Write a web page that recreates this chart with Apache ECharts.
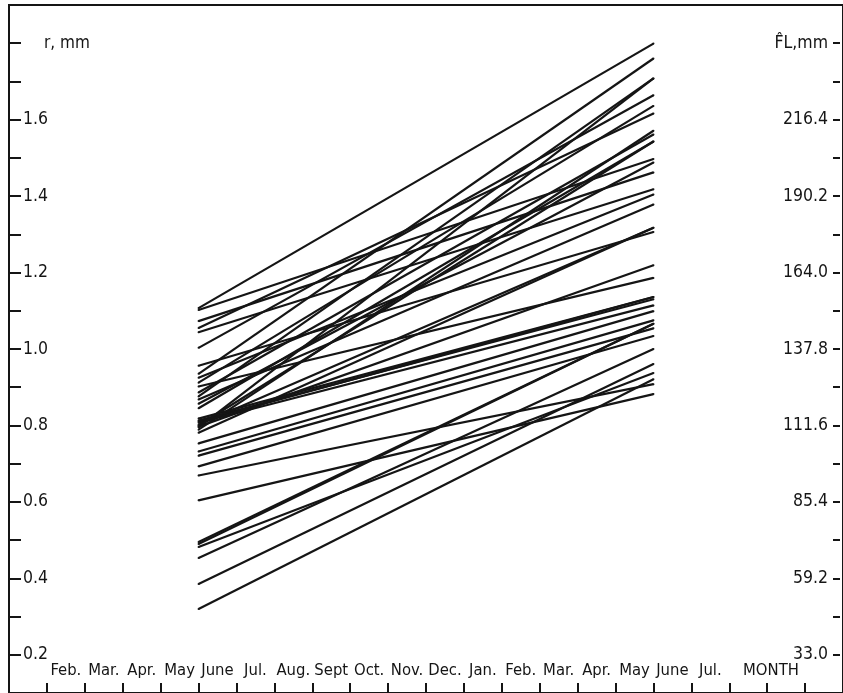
<!DOCTYPE html>
<html>
<head>
<meta charset="utf-8">
<script src="https://cdn.jsdelivr.net/npm/echarts@6/dist/echarts.min.js"></script>
<style>
  html, body { margin: 0; padding: 0; background: #fff; }
  #chart { width: 843px; height: 693px; }
</style>
</head>
<body>
<div id="chart"></div>
<script>
// ---- data ----
const monthLabels = ['Feb.', 'Mar.', 'Apr.', 'May', 'June', 'Jul.', 'Aug.', 'Sept', 'Oct.', 'Nov.', 'Dec.', 'Jan.', 'Feb.', 'Mar.', 'Apr.', 'May', 'June', 'Jul.'];
const monthAxisTitle = 'MONTH';
const startMonth = 4;   // June, first year
const endMonth = 16;    // June, following year
// scale radius (mm) at start and end of the growth year, one entry per fish
const startR = [
  1.107, 1.102, 1.073, 1.055, 1.044, 1.003, 0.956, 0.935, 0.925, 0.912,
  0.902, 0.886, 0.876, 0.868, 0.857, 0.845,
  0.818, 0.813, 0.810, 0.807, 0.802, 0.800, 0.797, 0.795, 0.789, 0.781,
  0.753, 0.732, 0.721, 0.693, 0.669, 0.604,
  0.495, 0.490, 0.482, 0.453, 0.385, 0.320
];
const endR = [
  1.799, 1.497, 1.462, 1.616, 1.418, 1.664, 1.306, 1.760, 1.404, 1.636,
  1.186, 1.561, 1.708, 1.378, 1.488, 1.543,
  1.136, 1.130, 1.136, 1.114, 1.317, 1.543, 1.219, 1.708, 1.571, 1.317,
  1.099, 1.075, 1.054, 1.034, 0.908, 0.882,
  1.066, 1.066, 0.937, 1.000, 0.961, 0.921
];
const rTickValues = [0.2, 0.3, 0.4, 0.5, 0.6, 0.7, 0.8, 0.9, 1.0, 1.1, 1.2, 1.3, 1.4, 1.5, 1.6, 1.7, 1.8];
const rLabelValues = [0.2, 0.4, 0.6, 0.8, 1.0, 1.2, 1.4, 1.6, 1.8];
const rLabels = ['0.2', '0.4', '0.6', '0.8', '1.0', '1.2', '1.4', '1.6', 'r, mm'];
const flLabels = ['33.0', '59.2', '85.4', '111.6', '137.8', '164.0', '190.2', '216.4', 'F\u0302L,mm'];

// ---- chart ----
const FONT = "'Liberation Sans Narrow', 'DejaVu Sans Condensed', 'Roboto', sans-serif";
const INK = '#151515';

function labelIndex(v) {
  for (let i = 0; i < rLabelValues.length; i++) {
    if (Math.abs(rLabelValues[i] - v) < 1e-6) return i;
  }
  return -1;
}

const xTickValues = [];
for (let k = 0; k <= monthLabels.length + 2; k++) xTickValues.push(k);
const xLabelValues = monthLabels.map((_, i) => i + 0.5).concat([19.1]);

const series = startR.map((s, i) => ({
  type: 'line',
  data: [[startMonth, s], [endMonth, endR[i]]],
  symbol: 'circle',
  symbolSize: 2,
  itemStyle: { color: INK },
  lineStyle: { color: INK, width: 2.2 },
  silent: true,
  animation: false
}));

const chart = echarts.init(document.getElementById('chart'), null, { renderer: 'canvas' });
chart.setOption({
  backgroundColor: '#fff',
  animation: false,
  grid: {
    left: 9, top: 5, width: 837, height: 688,
    show: true, borderColor: INK, borderWidth: 2, backgroundColor: 'transparent'
  },
  xAxis: {
    type: 'value', min: -1, max: 21, interval: 1,
    splitLine: { show: false },
    axisLine: { show: true, onZero: false, lineStyle: { color: INK, width: 2 } },
    axisTick: { show: true, inside: true, length: 10, customValues: xTickValues, lineStyle: { color: INK, width: 2 } },
    axisLabel: {
      show: true, inside: true, margin: 14,
      customValues: xLabelValues,
      fontFamily: FONT, fontSize: 16.5, color: INK,
      formatter: function (v) {
        if (v > 19) return monthAxisTitle;
        const i = Math.floor(v);
        return monthLabels[i] || '';
      }
    }
  },
  yAxis: [
    {
      type: 'value', min: 0.1, max: 1.9, position: 'left',
      splitLine: { show: false },
      axisLine: { show: true, onZero: false, lineStyle: { color: INK, width: 2 } },
      axisTick: { show: true, inside: true, length: 12, customValues: rTickValues, lineStyle: { color: INK, width: 2 } },
      axisLabel: {
        show: true, inside: true, margin: 14,
        customValues: rLabelValues,
        fontFamily: FONT, fontSize: 17.5, color: INK,
        formatter: function (v) {
          const i = labelIndex(v);
          if (i === rLabelValues.length - 1) return '{u|' + rLabels[i] + '}';
          return i >= 0 ? rLabels[i] : '';
        },
        rich: { u: { fontFamily: FONT, fontSize: 17, color: INK, padding: [0, 0, 0, 21] } }
      }
    },
    {
      type: 'value', min: 0.1, max: 1.9, position: 'right', offset: -3,
      splitLine: { show: false },
      axisLine: { show: false, onZero: false },
      axisTick: { show: true, inside: true, length: 7, customValues: rTickValues, lineStyle: { color: INK, width: 2 } },
      axisLabel: {
        show: true, inside: true, margin: 12,
        customValues: rLabelValues,
        fontFamily: FONT, fontSize: 17.5, color: INK,
        formatter: function (v) {
          const i = labelIndex(v);
          return i >= 0 ? flLabels[i] : '';
        }
      }
    }
  ],
  series: series
});
</script>
</body>
</html>
